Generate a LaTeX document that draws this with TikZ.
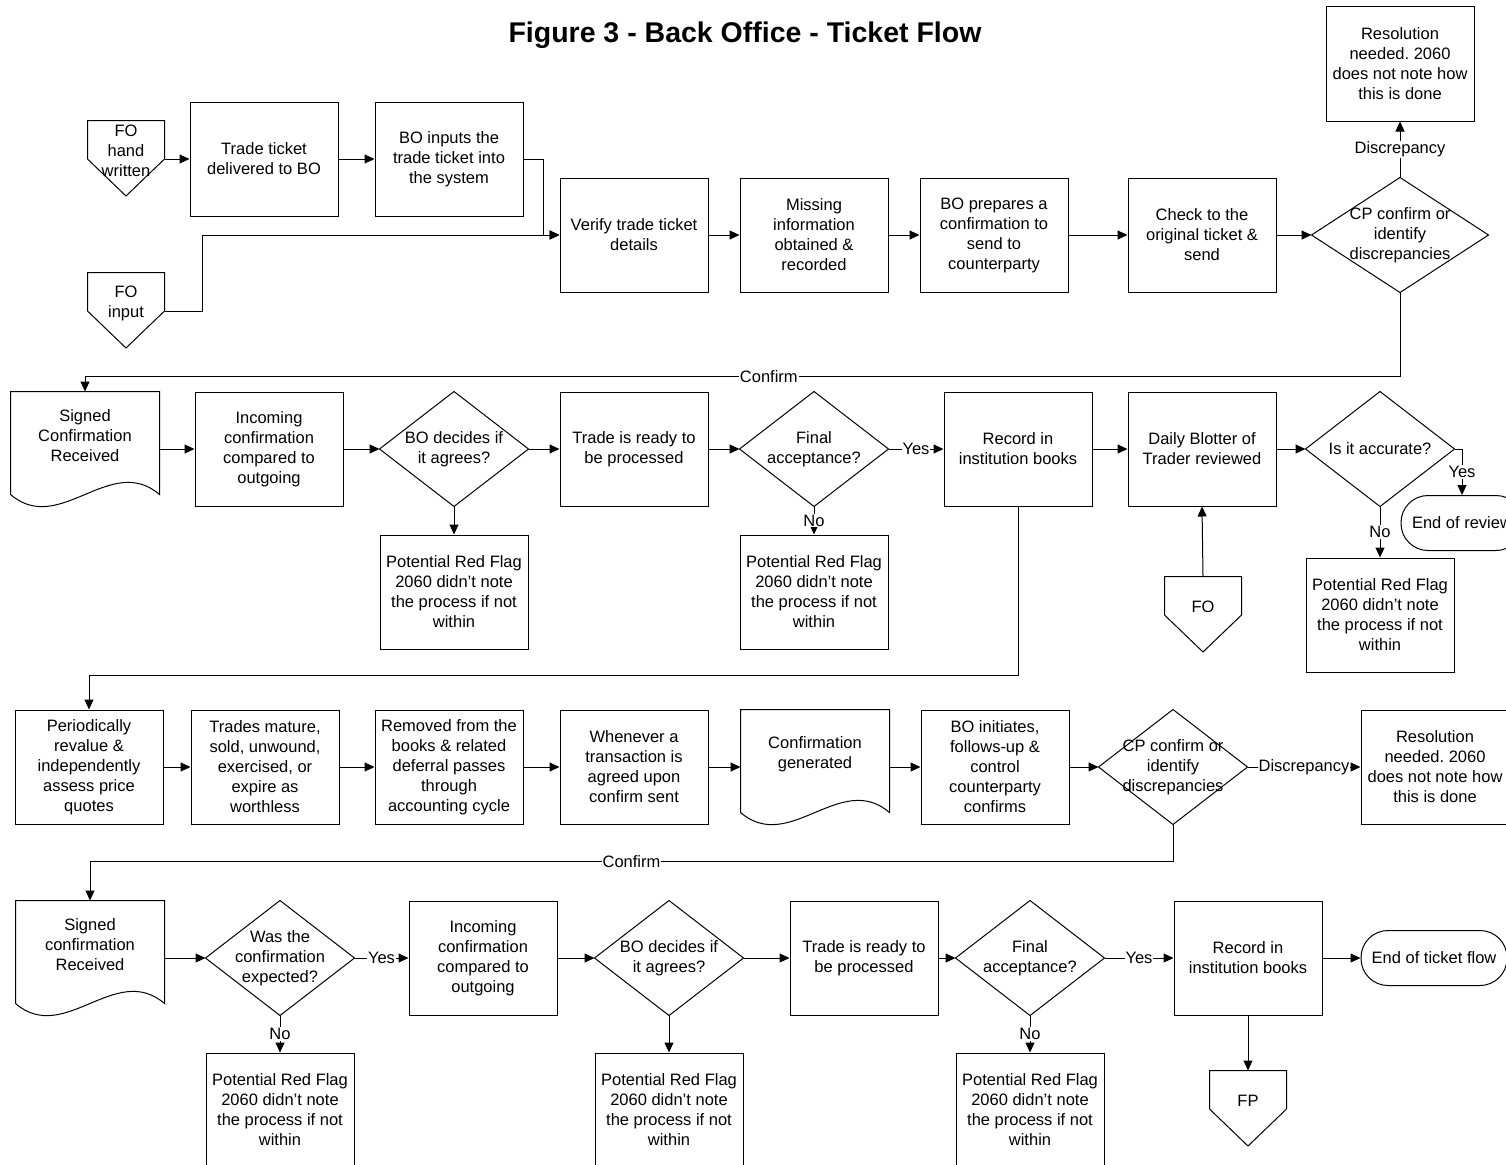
\documentclass[tikz,border=0pt]{standalone}
\usepackage{fontspec}
\setmainfont{Liberation Sans}
\usepackage{tikz}
\usetikzlibrary{arrows.meta}
\usetikzlibrary{calc}
\frenchspacing

\begin{document}
\begin{tikzpicture}[
  x=1pt, y=-1pt, line width=1pt,
  > = {Triangle[length=10pt,width=9pt]},
  every node/.style = {font=\fontsize{16.5}{20}\selectfont, align=center},
  box/.style = {draw, minimum width=148pt, minimum height=114pt, inner sep=2pt},
  dec/.style = {minimum width=148pt, minimum height=114pt, inner sep=0pt},
  docu/.style = {minimum width=148pt, minimum height=88pt, inner sep=0pt},
  offpage/.style = {minimum width=76pt, minimum height=60pt, inner sep=0pt},
  term/.style = {draw, rounded corners=27pt, minimum height=55pt, inner sep=2pt},
  lbl/.style = {fill=white, inner sep=1pt},
  flow/.style = {->}
  ]
	\useasboundingbox (0,0) rectangle (1506,1164);

	\node[font=\fontsize{28.5}{34}\selectfont\bfseries] (title) at (745,35) {Figure 3 - Back Office - Ticket Flow};

	% first row
	\node[offpage] (foh) at (126,151) {FO\\hand\\written};
	\node[offpage] (foi) at (126,303) {FO\\input};
	\node[box] (tkt) at (264,159) {Trade ticket\\delivered to BO};
	\node[box] (boin) at (449,159) {BO inputs the\\trade ticket into\\the system};
	\node[box] (ver) at (634,235) {Verify trade ticket\\details};
	\node[box] (mis) at (814,235) {Missing\\information\\obtained \&\\recorded};
	\node[box] (bop) at (994,235) {BO prepares a\\confirmation to\\send to\\counterparty};
	\node[box] (chk) at (1202,235) {Check to the\\original ticket \&\\send};
	\node[dec, minimum width=176pt] (cp1) at (1400,235) {CP confirm or\\identify\\discrepancies};
	\node[box] (res1) at (1400,64) {Resolution\\needed. 2060\\does not note how\\this is done};

	% second row
	\node[docu] (sig1) at (85,436) {Signed\\Confirmation\\Received};
	\node[box] (inc1) at (269,449) {Incoming\\confirmation\\compared to\\outgoing};
	\node[dec] (bod1) at (454,449) {BO decides if\\it agrees?};
	\node[box] (rf1) at (454,592) {Potential Red Flag\\2060 didn’t note\\the process if not\\within};
	\node[box] (rdy1) at (634,449) {Trade is ready to\\be processed};
	\node[dec] (fin1) at (814,449) {Final\\acceptance?};
	\node[box] (rf2) at (814,592) {Potential Red Flag\\2060 didn’t note\\the process if not\\within};
	\node[box] (rec1) at (1018,449) {Record in\\institution books};
	\node[box] (blt) at (1202,449) {Daily Blotter of\\Trader reviewed};
	\node[offpage] (fob) at (1203,607) {FO};
	\node[dec] (acc) at (1380,449) {Is it accurate?};
	\node[box] (rf3) at (1380,615) {Potential Red Flag\\2060 didn’t note\\the process if not\\within};
	\node[term, minimum width=122pt] (eor) at (1462,523) {End of review};

	% third row
	\node[box] (per) at (89,767) {Periodically\\revalue \&\\independently\\assess price\\quotes};
	\node[box] (trd) at (265,767) {Trades mature,\\sold, unwound,\\exercised, or\\expire as\\worthless};
	\node[box] (rem) at (449,767) {Removed from the\\books \& related\\deferral passes\\through\\accounting cycle};
	\node[box] (whe) at (634,767) {Whenever a\\transaction is\\agreed upon\\confirm sent};
	\node[docu] (cgen) at (815,754) {Confirmation\\generated};
	\node[box] (boi) at (995,767) {BO initiates,\\follows-up \&\\control\\counterparty\\confirms};
	\node[dec] (cp2) at (1173,767) {CP confirm or\\identify\\discrepancies};
	\node[box] (res2) at (1435,767) {Resolution\\needed. 2060\\does not note how\\this is done};

	% fourth row
	\node[docu] (sig2) at (90,945) {Signed\\confirmation\\Received};
	\node[dec] (was) at (280,958) {Was the\\confirmation\\expected?};
	\node[box] (rf4) at (280,1110) {Potential Red Flag\\2060 didn’t note\\the process if not\\within};
	\node[box] (inc2) at (483,958) {Incoming\\confirmation\\compared to\\outgoing};
	\node[dec] (bod2) at (669,958) {BO decides if\\it agrees?};
	\node[box] (rf5) at (669,1110) {Potential Red Flag\\2060 didn’t note\\the process if not\\within};
	\node[box] (rdy2) at (864,958) {Trade is ready to\\be processed};
	\node[dec] (fin2) at (1030,958) {Final\\acceptance?};
	\node[box] (rf6) at (1030,1110) {Potential Red Flag\\2060 didn’t note\\the process if not\\within};
	\node[box] (rec2) at (1248,958) {Record in\\institution books};
	\node[term, minimum width=146pt] (eot) at (1434,958) {End of ticket flow};
	\node[offpage] (fp) at (1248,1101) {FP};

	% outlines
	\foreach \n in {cp1,bod1,fin1,acc,cp2,was,bod2,fin2}
		\draw (\n.north) -- (\n.east) -- (\n.south) -- (\n.west) -- cycle;
	\foreach \n in {sig1,cgen,sig2}
		\draw (\n.north west) -- (\n.north east) -- ([yshift=-14pt]\n.south east)
			.. controls ([shift={(-49pt,28pt)}]\n.south east) and ([shift={(49pt,-56pt)}]\n.south west)
			.. ([yshift=-14pt]\n.south west) -- cycle;
	\foreach \n in {foh,foi,fob,fp}
		\draw (\n.north west) -- (\n.north east) -- ([yshift=-8pt]\n.east)
			-- ([yshift=-45pt]\n.center) -- ([yshift=-8pt]\n.west) -- cycle;

	% connectors
	\draw[flow] ([yshift=-8pt]foh.east) -- (tkt.west);
	\draw[flow] (tkt.east) -- (boin.west);
	\draw[flow] (boin.east) -- ++(20,0) |- (ver.west);
	\draw[flow] ([yshift=-8pt]foi.east) -- ++(38,0) |- (ver.west);
	\draw[flow] (ver.east) -- (mis.west);
	\draw[flow] (mis.east) -- (bop.west);
	\draw[flow] (bop.east) -- (chk.west);
	\draw[flow] (chk.east) -- (cp1.west);
	\draw[flow] (cp1.north) -- node[lbl]{Discrepancy} (res1.south);
	\draw[flow] (cp1.south) -- ++(0,84) -| node[lbl,pos=0.24]{Confirm} (sig1.north);

	\draw[flow] (sig1.east |- inc1.west) -- (inc1.west);
	\draw[flow] (inc1.east) -- (bod1.west);
	\draw[flow] (bod1.east) -- (rdy1.west);
	\draw[flow] (bod1.south) -- (rf1.north);
	\draw[flow] (rdy1.east) -- (fin1.west);
	\draw[flow] (fin1.east) -- node[lbl]{Yes} (rec1.west);
	\draw[flow] (fin1.south) -- node[lbl]{No} (rf2.north);
	\draw[flow] (rec1.east) -- (blt.west);
	\draw[flow] (blt.east) -- (acc.west);
	\draw[flow] (fob.north) -- (blt.south);
	\draw[flow] (acc.east) -| node[lbl,pos=0.75]{Yes} (eor.north);
	\draw[flow] (acc.south) -- node[lbl]{No} (rf3.north);
	\draw[flow] (rec1.south) -- ++(0,169) -| (per.north);

	\draw[flow] (per.east) -- (trd.west);
	\draw[flow] (trd.east) -- (rem.west);
	\draw[flow] (rem.east) -- (whe.west);
	\draw[flow] (whe.east) -- (cgen.west |- whe.east);
	\draw[flow] (cgen.east |- boi.west) -- (boi.west);
	\draw[flow] (boi.east) -- (cp2.west);
	\draw[flow] (cp2.east) -- node[lbl]{Discrepancy} (res2.west);
	\draw[flow] (cp2.south) -- ++(0,37) -| node[lbl,pos=0.25]{Confirm} (sig2.north);

	\draw[flow] (sig2.east |- was.west) -- (was.west);
	\draw[flow] (was.east) -- node[lbl]{Yes} (inc2.west);
	\draw[flow] (was.south) -- node[lbl]{No} (rf4.north);
	\draw[flow] (inc2.east) -- (bod2.west);
	\draw[flow] (bod2.east) -- (rdy2.west);
	\draw[flow] (bod2.south) -- (rf5.north);
	\draw[flow] (rdy2.east) -- (fin2.west);
	\draw[flow] (fin2.east) -- node[lbl]{Yes} (rec2.west);
	\draw[flow] (fin2.south) -- node[lbl]{No} (rf6.north);
	\draw[flow] (rec2.east) -- (eot.west);
	\draw[flow] (rec2.south) -- (fp.north);

\end{tikzpicture}
\end{document}
